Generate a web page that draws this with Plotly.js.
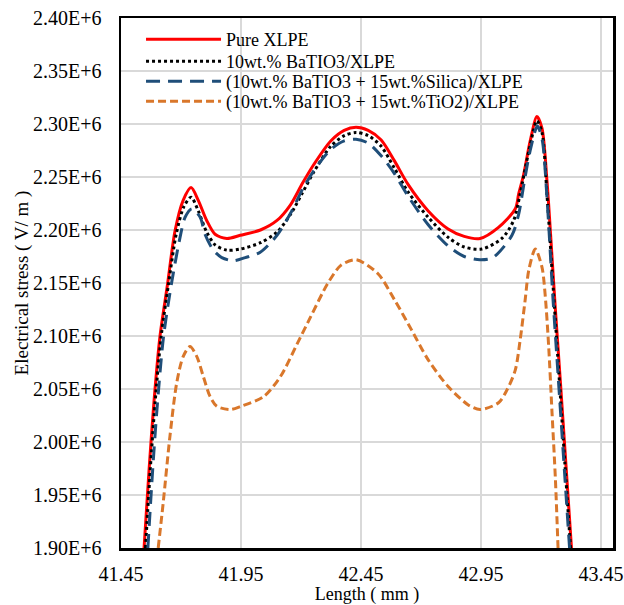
<!DOCTYPE html>
<html>
<head>
<meta charset="utf-8">
<script src="https://cdn.plot.ly/plotly-3.0.1.min.js"></script>
<style>html,body{margin:0;padding:0;background:#fff;}#chart{width:624px;height:605px;}</style>
</head>
<body>
<div id="chart"></div>
<script>
// Values in units of 1E+6 V/m
const seriesNames = ["Pure XLPE", "10wt.% BaTIO3/XLPE", "(10wt.% BaTIO3 + 15wt.%Silica)/XLPE", "(10wt.% BaTIO3 + 15wt.%TiO2)/XLPE"];

const pureX = [41.546, 41.567, 41.587, 41.612, 41.644, 41.675, 41.709, 41.742, 41.772, 41.807, 41.842, 41.891, 41.947, 42.031, 42.100, 42.157, 42.206, 42.254, 42.324, 42.380, 42.429, 42.480, 42.534, 42.590, 42.646, 42.730, 42.813, 42.880, 42.946, 43.023, 43.093, 43.107, 43.128, 43.155, 43.183, 43.204, 43.225, 43.239, 43.260, 43.281, 43.302, 43.327];
const pureY = [1.900, 1.974, 2.037, 2.099, 2.149, 2.199, 2.228, 2.240, 2.228, 2.209, 2.196, 2.192, 2.195, 2.200, 2.209, 2.224, 2.244, 2.262, 2.284, 2.294, 2.297, 2.294, 2.285, 2.265, 2.243, 2.218, 2.201, 2.194, 2.192, 2.2025, 2.220, 2.234, 2.2526, 2.284, 2.307, 2.296, 2.246, 2.199, 2.125, 2.056, 1.985, 1.900];

const batX = [41.552, 41.572, 41.592, 41.617, 41.648, 41.680, 41.712, 41.742, 41.772, 41.807, 41.842, 41.891, 41.947, 42.031, 42.100, 42.157, 42.206, 42.254, 42.324, 42.380, 42.429, 42.480, 42.534, 42.590, 42.646, 42.730, 42.813, 42.880, 42.953, 43.037, 43.086, 43.113, 43.150, 43.183, 43.204, 43.225, 43.245, 43.270, 43.300, 43.323];
const batY = [1.900, 1.974, 2.037, 2.099, 2.149, 2.196, 2.222, 2.231, 2.218, 2.198, 2.186, 2.181, 2.182, 2.188, 2.198, 2.215, 2.235, 2.255, 2.279, 2.289, 2.292, 2.289, 2.279, 2.258, 2.236, 2.212, 2.193, 2.184, 2.182, 2.192, 2.209, 2.234, 2.275, 2.303, 2.292, 2.233, 2.165, 2.080, 1.978, 1.900];

const silX = [41.562, 41.582, 41.602, 41.627, 41.660, 41.696, 41.717, 41.745, 41.780, 41.800, 41.835, 41.870, 41.919, 41.968, 42.030, 42.100, 42.157, 42.210, 42.260, 42.324, 42.380, 42.429, 42.480, 42.534, 42.590, 42.646, 42.730, 42.813, 42.880, 42.946, 43.000, 43.079, 43.107, 43.130, 43.155, 43.185, 43.205, 43.225, 43.250, 43.270, 43.295, 43.319];
const silY = [1.900, 1.974, 2.037, 2.099, 2.149, 2.193, 2.212, 2.220, 2.212, 2.196, 2.181, 2.174, 2.171, 2.174, 2.179, 2.195, 2.216, 2.240, 2.258, 2.276, 2.284, 2.2855, 2.282, 2.270, 2.253, 2.232, 2.205, 2.185, 2.175, 2.172, 2.174, 2.195, 2.215, 2.245, 2.275, 2.298, 2.285, 2.230, 2.135, 2.067, 1.982, 1.900];

const tioX = [41.605, 41.626, 41.654, 41.682, 41.709, 41.7375, 41.766, 41.793, 41.821, 41.849, 41.905, 41.950, 42.045, 42.115, 42.185, 42.240, 42.310, 42.366, 42.429, 42.520, 42.590, 42.660, 42.730, 42.813, 42.897, 42.946, 43.023, 43.058, 43.093, 43.113, 43.134, 43.149, 43.176, 43.204, 43.218, 43.232, 43.246, 43.260, 43.271];
const tioY = [1.900, 1.943, 2.0056, 2.0556, 2.0806, 2.090, 2.0806, 2.0618, 2.043, 2.0337, 2.0306, 2.0337, 2.043, 2.062, 2.093, 2.118, 2.149, 2.1666, 2.172, 2.159, 2.134, 2.106, 2.0775, 2.0524, 2.035, 2.0306, 2.037, 2.049, 2.068, 2.096, 2.134, 2.162, 2.182, 2.165, 2.137, 2.090, 2.0275, 1.965, 1.900];

const xTicks = [41.45, 41.95, 42.45, 42.95, 43.45];
const yTicks = [1.90, 1.95, 2.00, 2.05, 2.10, 2.15, 2.20, 2.25, 2.30, 2.35, 2.40];
const yTickText = ["1.90E+6", "1.95E+6", "2.00E+6", "2.05E+6", "2.10E+6", "2.15E+6", "2.20E+6", "2.25E+6", "2.30E+6", "2.35E+6", "2.40E+6"];

const font = "Liberation Serif";
const legendIds = ["legend", "legend2", "legend3", "legend4"];
const legendRowY = [0.9594, 0.9179, 0.8802, 0.8425];

const traces = [
  {x: pureX, y: pureY, name: seriesNames[0], legend: "legend", mode: "lines", line: {color: "#ff0000", width: 3, shape: "spline", smoothing: 0.8}},
  {x: batX, y: batY, name: seriesNames[1], legend: "legend2", mode: "lines", line: {color: "#000000", width: 3, dash: "dot", shape: "spline", smoothing: 0.8}},
  {x: silX, y: silY, name: seriesNames[2], legend: "legend3", mode: "lines", line: {color: "#1f4e79", width: 3, dash: "14px,8px", shape: "spline", smoothing: 0.8}},
  {x: tioX, y: tioY, name: seriesNames[3], legend: "legend4", mode: "lines", line: {color: "#d9772b", width: 3, dash: "8px,4px", shape: "spline", smoothing: 0.8}}
];

const layout = {
  width: 624, height: 605,
  margin: {l: 121, r: 11, t: 18, b: 57},
  paper_bgcolor: "#ffffff", plot_bgcolor: "#ffffff",
  font: {family: font, color: "#000000", size: 18},
  showlegend: true,
  xaxis: {
    range: [41.45, 43.5], tickvals: xTicks, ticktext: xTicks.map(v => v.toFixed(2)),
    showgrid: true, gridcolor: "#d9d9d9", gridwidth: 1.5, zeroline: false,
    showline: true, linecolor: "#000000", linewidth: 2.5, mirror: true,
    ticks: "", ticklabelstandoff: 6, tickfont: {family: font, size: 20, color: "#000000"},
    title: {text: "Length ( mm )", font: {family: font, size: 18, color: "#000000"}, standoff: 8}
  },
  yaxis: {
    range: [1.90, 2.40], tickvals: yTicks, ticktext: yTickText,
    showgrid: true, gridcolor: "#d9d9d9", gridwidth: 1.5, zeroline: false,
    showline: true, linecolor: "#000000", linewidth: 2.5, mirror: true,
    ticks: "", ticklabelstandoff: 13, tickfont: {family: font, size: 20, color: "#000000"},
    title: {text: "Electrical stress ( V/ m )", font: {family: font, size: 19, color: "#000000"}, standoff: 0}
  }
};
legendIds.forEach((id, i) => {
  layout[id] = {x: 0.0407, y: legendRowY[i], xanchor: "left", yanchor: "middle", bgcolor: "rgba(0,0,0,0)", font: {family: font, size: 18}, itemwidth: 75};
});

Plotly.newPlot("chart", traces, layout, {displayModeBar: false, staticPlot: true});
</script>
</body>
</html>
